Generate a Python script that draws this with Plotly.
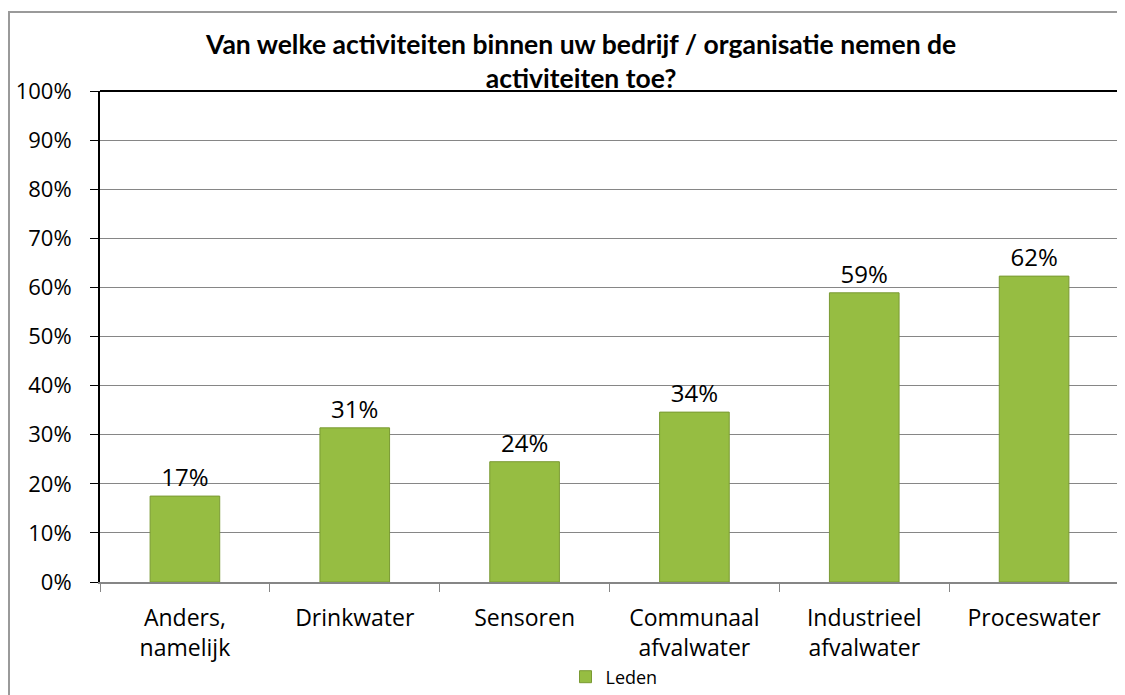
import plotly.graph_objects as go

categories = ["Anders,<br>namelijk", "Drinkwater", "Sensoren",
              "Communaal<br>afvalwater", "Industrieel<br>afvalwater", "Proceswater"]
values = [17.5, 31.4, 24.5, 34.6, 58.9, 62.3]
labels = ["17%", "31%", "24%", "34%", "59%", "62%"]
y_ticks = [0, 10, 20, 30, 40, 50, 60, 70, 80, 90, 100]
y_tick_text = [f"{v}%" for v in y_ticks]
series_name = "Leden"
title = "Van welke activiteiten binnen uw bedrijf / organisatie nemen de<br>activiteiten toe?"

# the page body adds an 8px margin, so the figure is drawn 8px in from the corner
OFF = 8
W, H = 1125 - OFF, 695 - OFF
ML, MR, MT, MB = 100 - OFF, 6, 91 - OFF, 113
PW, PH = W - ML - MR, H - MT - MB


def px_x(p):
    return (p - OFF - ML) / PW


def px_y(p):
    return (H - MB - (p - OFF)) / PH


TICK_FONT = "Open Sans, Noto Sans, sans-serif"

fig = go.Figure()
fig.add_trace(
    go.Bar(
        x=categories,
        y=values,
        name=series_name,
        text=labels,
        textposition="outside",
        textfont=dict(family=TICK_FONT, size=24, color="#000000"),
        cliponaxis=False,
        marker=dict(color="#96bd42", line=dict(color="#7a9a33", width=1)),
        width=0.41,
    )
)

fig.update_layout(
    width=W,
    height=H,
    margin=dict(l=ML, r=MR, t=MT, b=MB, autoexpand=False),
    paper_bgcolor="white",
    plot_bgcolor="white",
    showlegend=True,
    legend=dict(
        orientation="h",
        x=px_x(614),
        y=px_y(677),
        xanchor="center",
        yanchor="middle",
        font=dict(family=TICK_FONT, size=18, color="#000000"),
        itemwidth=30,
    ),
    annotations=[
        dict(
            text=f"<b>{title}</b>",
            xref="paper",
            yref="paper",
            x=px_x(580),
            y=px_y(61),
            xanchor="center",
            yanchor="middle",
            showarrow=False,
            font=dict(family="Lato, sans-serif", size=26.5, color="#000000"),
        )
    ],
    shapes=[
        # outer chart border
        dict(type="rect", xref="paper", yref="paper",
             x0=px_x(9), x1=px_x(1140), y0=px_y(710), y1=px_y(12),
             line=dict(color="#9a9a9a", width=2), layer="below"),
        # plot area top and right edges
        dict(type="line", xref="paper", yref="paper", x0=0, x1=1, y0=1, y1=1,
             line=dict(color="#000000", width=2)),
        dict(type="line", xref="paper", yref="paper", x0=1, x1=1, y0=0, y1=1,
             line=dict(color="#000000", width=2)),
    ],
)

fig.update_xaxes(
    automargin=False,
    showline=True,
    linecolor="#868686",
    linewidth=2,
    ticks="outside",
    tickson="boundaries",
    ticklen=8,
    tickcolor="#868686",
    ticklabelstandoff=14,
    tickfont=dict(family=TICK_FONT, size=23, color="#000000"),
    showgrid=False,
)
fig.update_yaxes(
    automargin=False,
    range=[0, 100],
    tickvals=y_ticks,
    ticktext=y_tick_text,
    showline=True,
    linecolor="#000000",
    linewidth=2,
    ticks="outside",
    ticklen=8,
    tickcolor="#000000",
    ticklabelstandoff=14,
    tickfont=dict(family=TICK_FONT, size=22, color="#000000"),
    showgrid=True,
    gridcolor="#868686",
    gridwidth=1,
    zeroline=False,
)

fig.write_html("out.html")
